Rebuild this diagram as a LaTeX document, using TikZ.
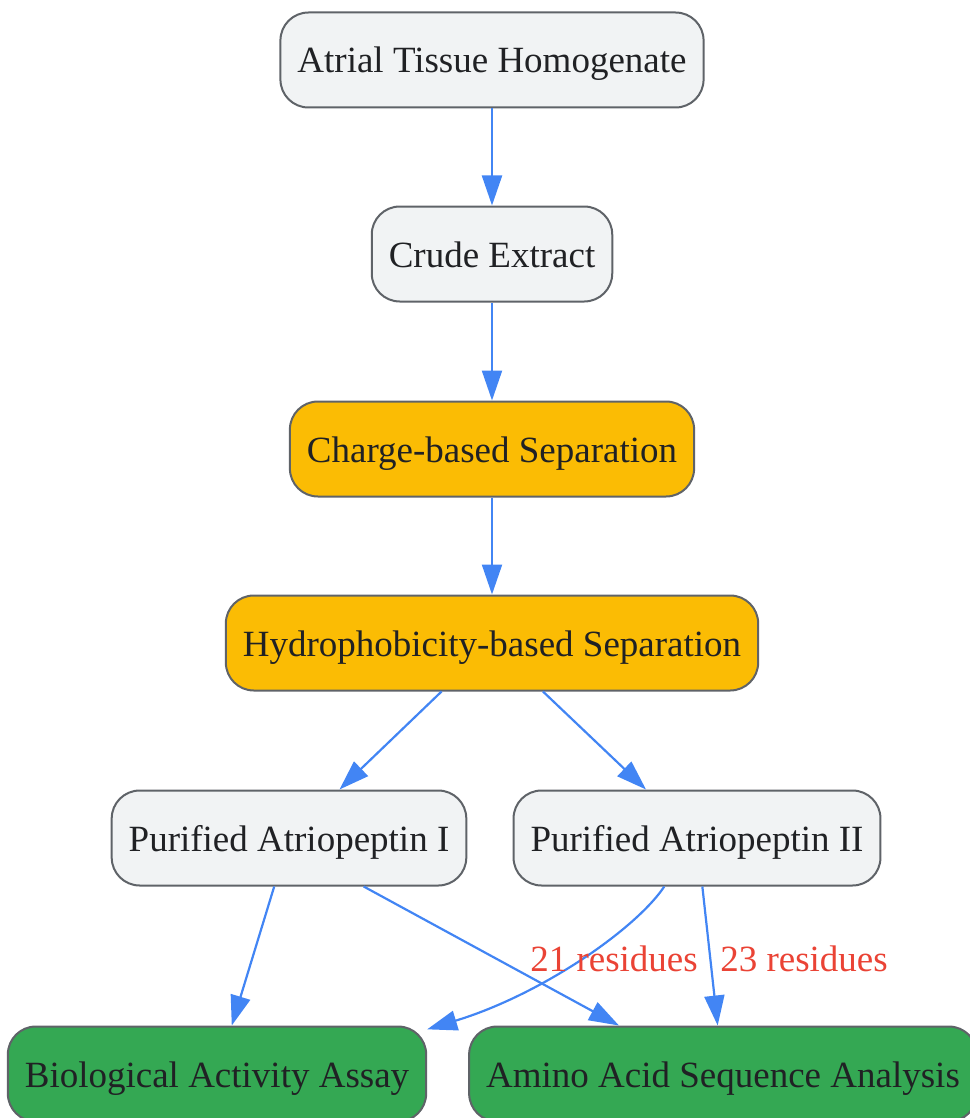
\documentclass[tikz,border=0pt]{standalone}
\usepackage{fontspec}
\setmainfont{Liberation Serif}
\usepackage{tikz}
\usetikzlibrary{arrows.meta}
\definecolor{boxgrey}{HTML}{F1F3F4}
\definecolor{boxline}{HTML}{5F6368}
\definecolor{sepyellow}{HTML}{FBBC04}
\definecolor{donegreen}{HTML}{34A853}
\definecolor{txt}{HTML}{202124}
\definecolor{lblred}{HTML}{EA4335}
\definecolor{arrowblue}{HTML}{4285F4}

\begin{document}
\begin{tikzpicture}
  [x=1pt,y=1pt,
   every node/.style={draw=boxline,line width=2pt,rounded corners=28pt,fill=boxgrey,
     text=txt,minimum height=95pt,inner xsep=17pt,text height=35pt,text depth=9pt,
     font=\fontsize{37}{44}\selectfont},
   sep/.style={fill=sepyellow},
   done/.style={fill=donegreen},
   lbl/.style={draw=none,fill=none,text=lblred,minimum height=0pt,inner sep=0pt},
   edge/.style={draw=arrowblue,line width=2.2pt,-{Triangle[length=30pt,width=20pt]}}]
  \useasboundingbox (0,0) rectangle (969,-1118);
  \node (n1) at (492,-60) {Atrial Tissue Homogenate};
  \node (n2) at (492,-254) {Crude Extract};
  \node[sep] (n3) at (492,-449) {Charge-based Separation};
  \node[sep] (n4) at (492,-643) {Hydrophobicity-based Separation};
  \node (n5) at (289,-838) {Purified Atriopeptin I};
  \node (n6) at (697,-838) {Purified Atriopeptin II};
  \node[done] (n7) at (217,-1074) {Biological Activity Assay};
  \node[done] (n8) at (723,-1074) {Amino Acid Sequence Analysis};

  \foreach \from/\to in {n1/n2,n2/n3,n3/n4,n4/n5,n4/n6,n5/n7,n6/n8}
    \draw[edge] (\from) -- (\to);
  \draw[edge] (n5.-33) -- (n8.155);
  \draw[edge] (n6.-124) .. controls +(-28,-42) and +(115,35) .. (n7.12);

  \node[lbl] at (614,-958) {21 residues};
  \node[lbl] at (804,-958) {23 residues};
\end{tikzpicture}
\end{document}
